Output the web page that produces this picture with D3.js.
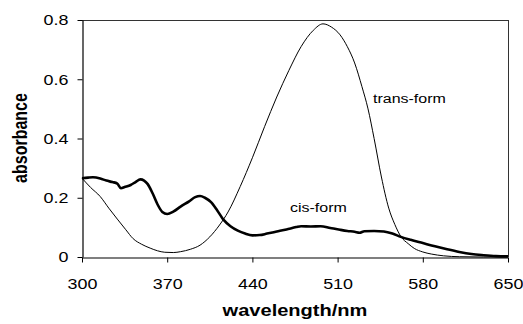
<!DOCTYPE html>
<html>
<head>
<meta charset="utf-8">
<script src="https://cdn.jsdelivr.net/npm/d3@7"></script>
<style>
  html, body { margin: 0; padding: 0; background: #fff; }
  svg { display: block; font-family: "Liberation Sans", Arial, sans-serif; }
</style>
</head>
<body>
<svg id="chart" width="523" height="324"></svg>
<script>
// ---- data ----
const transWavelength = [300, 307, 315, 322, 329, 336, 342, 349, 356, 362, 368, 375, 381, 389, 397, 405, 413, 420, 430, 440, 450, 460, 470, 480, 490, 498, 505, 512, 518, 524, 530, 535, 540, 546, 552, 557, 562, 568, 573, 580, 587, 597, 610, 630, 650];
const transAbsorbance = [0.266, 0.235, 0.204, 0.165, 0.128, 0.092, 0.062, 0.043, 0.030, 0.021, 0.016, 0.015, 0.018, 0.026, 0.040, 0.068, 0.108, 0.152, 0.238, 0.335, 0.440, 0.540, 0.630, 0.710, 0.765, 0.787, 0.776, 0.750, 0.710, 0.655, 0.575, 0.500, 0.400, 0.270, 0.165, 0.110, 0.069, 0.045, 0.029, 0.017, 0.010, 0.004, 0.001, 0.000, 0.000];

const cisWavelength = [300, 305, 309, 315, 320, 325, 329, 332, 335, 340, 344, 348, 351, 354, 358, 362, 366, 370, 375, 381, 388, 393, 397, 401, 406, 411, 416, 422, 428, 434, 440, 446, 452, 460, 468, 476, 480, 488, 496, 504, 512, 518, 524, 528, 532, 540, 548, 555, 562, 570, 580, 590, 600, 610, 620, 630, 640, 650];
const cisAbsorbance = [0.266, 0.268, 0.269, 0.265, 0.258, 0.253, 0.248, 0.232, 0.236, 0.243, 0.253, 0.262, 0.258, 0.246, 0.215, 0.178, 0.152, 0.145, 0.153, 0.170, 0.188, 0.202, 0.206, 0.200, 0.185, 0.158, 0.127, 0.104, 0.089, 0.079, 0.073, 0.074, 0.079, 0.086, 0.093, 0.101, 0.104, 0.103, 0.104, 0.098, 0.092, 0.088, 0.085, 0.082, 0.087, 0.088, 0.086, 0.079, 0.068, 0.058, 0.047, 0.036, 0.026, 0.017, 0.010, 0.006, 0.003, 0.002];

const xTicks = [300, 370, 440, 510, 580, 650];
const yTicks = [0, 0.2, 0.4, 0.6, 0.8];
const xTitle = "wavelength/nm";
const yTitle = "absorbance";
const seriesLabels = ["trans-form", "cis-form"];

// ---- layout ----
const svg = d3.select("#chart");
const mLeft = 82, mRight = 508, mTop = 20, mBottom = 257;
const stretch = 1.28;

const x = d3.scaleLinear().domain([300, 650]).range([mLeft, mRight]);
const y = d3.scaleLinear().domain([0, 0.8]).range([mBottom, mTop]);

// frame top/right
svg.append("line").attr("x1", mLeft).attr("x2", mRight + 0.5).attr("y1", mTop + 0.5).attr("y2", mTop + 0.5)
  .attr("stroke", "#333").attr("stroke-width", 1);
svg.append("line").attr("x1", mRight + 0.5).attr("x2", mRight + 0.5).attr("y1", mTop).attr("y2", mBottom)
  .attr("stroke", "#333").attr("stroke-width", 1);

// axes
const xAxis = svg.append("g").attr("transform", `translate(0,${mBottom + 0.5})`)
  .call(d3.axisBottom(x).tickValues(xTicks).tickSize(5).tickSizeOuter(0).tickFormat(d3.format("d")));
const yAxis = svg.append("g").attr("transform", `translate(${mLeft + 0.5},0)`)
  .call(d3.axisLeft(y).tickValues(yTicks).tickSize(5).tickSizeOuter(0).tickFormat(d => d === 0 ? "0" : d3.format(".1f")(d)));

[xAxis, yAxis].forEach(g => {
  g.select(".domain").attr("stroke", "#000").attr("stroke-width", 1.2);
  g.selectAll(".tick line").attr("stroke", "#000").attr("stroke-width", 1);
  g.selectAll(".tick text").attr("fill", "#000").style("font-size", "14px")
    .style("font-family", '"Liberation Sans", Arial, sans-serif');
});
xAxis.selectAll(".tick text").attr("y", 32).attr("dy", null).attr("transform", `scale(${stretch},1)`);
yAxis.selectAll(".tick text").attr("x", -14 / stretch).attr("dy", "0.35em").attr("transform", `scale(${stretch},1)`);

// lines
const line = d3.line().x(d => x(d[0])).y(d => y(d[1])).curve(d3.curveMonotoneX);
const transData = transWavelength.map((w, i) => [w, transAbsorbance[i]]);
const cisData = cisWavelength.map((w, i) => [w, cisAbsorbance[i]]);

svg.append("path").datum(transData).attr("d", line)
  .attr("fill", "none").attr("stroke", "#000").attr("stroke-width", 1);
svg.append("path").datum(cisData).attr("d", line)
  .attr("fill", "none").attr("stroke", "#000").attr("stroke-width", 2.6).attr("stroke-linejoin", "round");

// series labels
function stretchedText(px, py, txt, size, weight, anchor) {
  const g = svg.append("g").attr("transform", `translate(${px},${py}) scale(${stretch},1)`);
  g.append("text").attr("text-anchor", anchor).style("font-size", size + "px")
    .style("font-weight", weight).attr("fill", "#000").text(txt);
  return g;
}
stretchedText(373, 103, seriesLabels[0], 12.5, "normal", "start");
stretchedText(290, 212, seriesLabels[1], 12.5, "normal", "start");

// axis titles
svg.append("g").attr("transform", `translate(295,316) scale(1.18,1)`)
  .append("text").attr("text-anchor", "middle").style("font-size", "17px").style("font-weight", "bold")
  .text(xTitle);
svg.append("g").attr("transform", `translate(27,138) rotate(-90) scale(1,1.25)`)
  .append("text").attr("text-anchor", "middle").style("font-size", "16px").style("font-weight", "bold")
  .text(yTitle);
</script>
</body>
</html>
